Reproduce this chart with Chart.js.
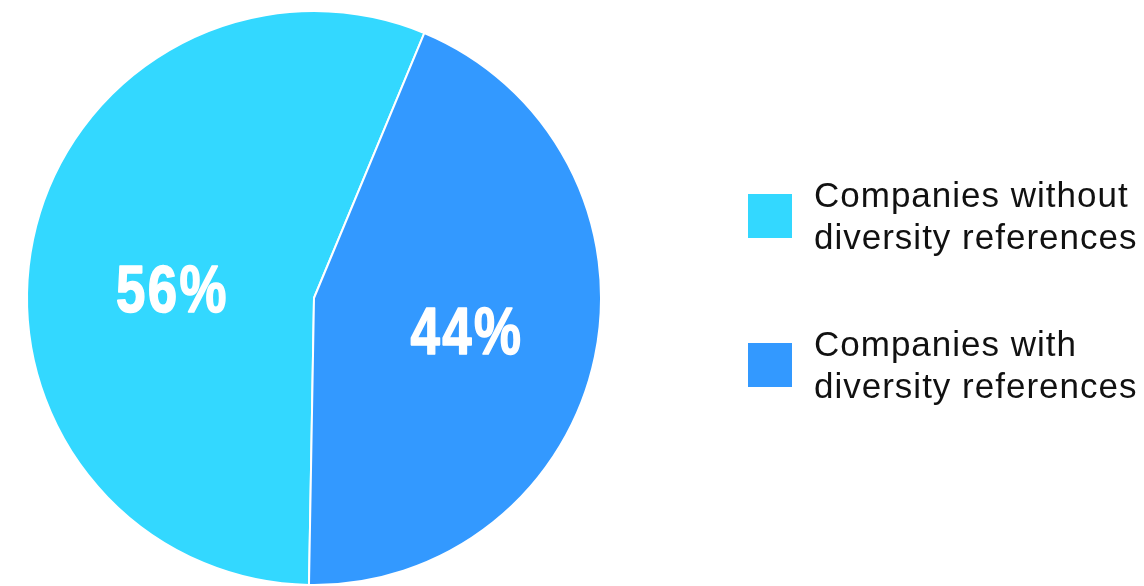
<!DOCTYPE html>
<html>
<head>
<meta charset="utf-8">
<script src="https://cdn.jsdelivr.net/npm/chart.js@4/dist/chart.umd.min.js"></script>
<style>
  html, body { margin: 0; padding: 0; background: #ffffff; }
  #wrap { position: relative; width: 1144px; height: 586px; }
</style>
</head>
<body>
<div id="wrap"><canvas id="chart" width="1144" height="586"></canvas></div>
<script>
// Share of companies, with and without diversity references
const categories = [
  ['Companies without', 'diversity references'],
  ['Companies with', 'diversity references']
];
const shares = [56, 44];
const valueLabels = ['56%', '44%'];
const sliceColors = ['#33D8FF', '#3399FF'];

// White condensed percentage text inside each slice
const sliceLabels = {
  id: 'sliceLabels',
  afterDatasetsDraw(chart, args, opts) {
    const ctx = chart.ctx;
    const meta = chart.getDatasetMeta(0);
    const capHalf = 24;
    ctx.save();
    ctx.fillStyle = '#ffffff';
    ctx.strokeStyle = '#ffffff';
    ctx.lineWidth = opts.weight;
    ctx.lineJoin = 'round';
    ctx.textAlign = 'center';
    ctx.textBaseline = 'alphabetic';
    ctx.font = 'bold 66px "Liberation Sans", Arial, sans-serif';
    ctx.letterSpacing = opts.spacing + 'px';
    meta.data.forEach((arc, i) => {
      const p = arc.getProps(['x', 'y', 'startAngle', 'endAngle', 'outerRadius'], true);
      const mid = (p.startAngle + p.endAngle) / 2;
      const r = p.outerRadius * opts.radiusFraction;
      const nudge = opts.nudge[i] || [0, 0];
      const cx = p.x + Math.cos(mid) * r + nudge[0];
      const cy = p.y + Math.sin(mid) * r + nudge[1];
      ctx.save();
      ctx.translate(cx + opts.spacing * opts.squeeze / 2, cy + capHalf);
      ctx.scale(opts.squeeze, 1);
      ctx.strokeText(valueLabels[i], 0, 0);
      ctx.fillText(valueLabels[i], 0, 0);
      ctx.restore();
    });
    ctx.restore();
  }
};

// Legend on the right with two-line entries
const sideLegend = {
  id: 'sideLegend',
  afterDraw(chart) {
    const ctx = chart.ctx;
    const boxX = 748, box = 44, textX = 814;
    const rowTop = [194, 343];
    const lineGap = 42;
    ctx.save();
    ctx.font = '35px "Liberation Sans", Arial, sans-serif';
    ctx.letterSpacing = '1px';
    ctx.textAlign = 'left';
    ctx.textBaseline = 'alphabetic';
    chart.data.labels.forEach((lines, i) => {
      ctx.fillStyle = chart.data.datasets[0].backgroundColor[i];
      ctx.fillRect(boxX, rowTop[i], box, box);
      ctx.fillStyle = '#111111';
      lines.forEach((line, j) => {
        ctx.fillText(line, textX, rowTop[i] + 13 + j * lineGap);
      });
    });
    ctx.restore();
  }
};

new Chart(document.getElementById('chart'), {
  type: 'pie',
  data: {
    labels: categories,
    datasets: [{
      data: shares,
      backgroundColor: sliceColors,
      borderColor: '#ffffff',
      borderWidth: 2
    }]
  },
  options: {
    responsive: false,
    animation: false,
    rotation: 181,
    layout: { padding: { left: 24, right: 540, top: 10, bottom: -4 } },
    plugins: {
      legend: { display: false },
      tooltip: { enabled: false },
      sliceLabels: { radiusFraction: 0.54, squeeze: 0.8, spacing: 3, weight: 1.6, nudge: [[9, 22], [0, 0]] }
    }
  },
  plugins: [sliceLabels, sideLegend]
});
</script>
</body>
</html>
